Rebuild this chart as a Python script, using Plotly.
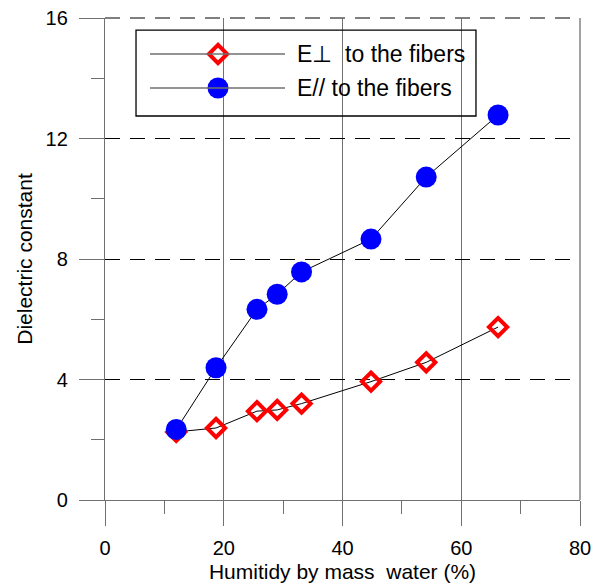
import plotly.graph_objects as go

humidity = [12.0, 18.7, 25.6, 29.0, 33.1, 44.8, 54.1, 66.2]
eps_perp = [2.26, 2.39, 2.95, 2.99, 3.2, 3.93, 4.57, 5.74]
eps_par = [2.34, 4.39, 6.33, 6.83, 7.57, 8.66, 10.72, 12.78]
legend_names = ["E\u22a5  to the fibers", "E// to the fibers"]

FONT = "Arial, Liberation Sans, sans-serif"
GRAY = "#707070"

fig = go.Figure()
fig.add_trace(go.Scatter(
    x=humidity, y=eps_perp, mode="lines+markers", name=legend_names[0],
    line=dict(color="black", width=1),
    marker=dict(symbol="diamond-open", size=14, color="red", line=dict(color="red", width=4)),
    showlegend=False))
fig.add_trace(go.Scatter(
    x=humidity, y=eps_par, mode="lines+markers", name=legend_names[1],
    line=dict(color="black", width=1),
    marker=dict(symbol="circle", size=21, color="blue", line=dict(width=0)),
    showlegend=False))

# frame lines at the top (y=16, dashed grid) and right (x=80, solid grid)
fig.add_shape(type="line", xref="paper", yref="paper", x0=0, x1=1, y0=1, y1=1,
              line=dict(color="black", width=1, dash="15px,10px"), layer="below")
fig.add_shape(type="line", xref="paper", yref="paper", x0=1, x1=1, y0=0, y1=1,
              line=dict(color=GRAY, width=1.3), layer="below")

# manual legend (paper-space helper axes)
lx0, lx1, lxm, ltx = 0.0947, 0.379, 0.2379, 0.40
rows = [0.9253, 0.8548]
fig.add_shape(type="rect", xref="paper", yref="paper", x0=0.0653, x1=0.781, y0=0.7967, y1=0.975,
              line=dict(color="black", width=1.3), fillcolor="rgba(0,0,0,0)", layer="above")
for ry in rows:
    fig.add_shape(type="line", xref="paper", yref="paper", x0=lx0, x1=lx1, y0=ry, y1=ry,
                  line=dict(color=GRAY, width=1.5), layer="above")
fig.add_trace(go.Scatter(x=[lxm], y=[rows[0]], xaxis="x2", yaxis="y2", mode="markers", showlegend=False,
                         marker=dict(symbol="diamond-open", size=14, color="red", line=dict(color="red", width=4))))
fig.add_trace(go.Scatter(x=[lxm], y=[rows[1]], xaxis="x2", yaxis="y2", mode="markers", showlegend=False,
                         marker=dict(symbol="circle", size=21, color="blue", line=dict(width=0))))
for ry, name in zip(rows, legend_names):
    fig.add_annotation(x=ltx, y=ry, xref="paper", yref="paper", text=name, showarrow=False,
                       xanchor="left", yanchor="middle", font=dict(family=FONT, size=23, color="black"))

fig.update_layout(
    width=593, height=587,
    margin=dict(l=105, r=13, t=18, b=87),
    paper_bgcolor="white", plot_bgcolor="white",
    font=dict(family=FONT, size=20, color="black"),
    xaxis=dict(range=[0, 80], dtick=20, tick0=0, showgrid=True, gridcolor=GRAY, gridwidth=1.3,
               zeroline=False, showline=True, linecolor=GRAY, linewidth=1.3, automargin=False,
               ticks="outside", ticklen=25, tickcolor=GRAY, tickwidth=1.3,
               minor=dict(dtick=10, ticks="outside", ticklen=13, tickcolor=GRAY, tickwidth=1.3, showgrid=False),
               ticklabelstandoff=5,
               title=dict(text="Humitidy by mass  water (%)", font=dict(size=21), standoff=6),
               tickfont=dict(size=20)),
    yaxis=dict(range=[0, 16], dtick=4, tick0=0, showgrid=True, gridcolor="black", gridwidth=1,
               griddash="15px,10px", automargin=False,
               zeroline=False, showline=True, linecolor=GRAY, linewidth=1.3,
               ticks="outside", ticklen=25, tickcolor=GRAY, tickwidth=1.3,
               minor=dict(dtick=2, ticks="outside", ticklen=13, tickcolor=GRAY, tickwidth=1.3, showgrid=False),
               ticklabelstandoff=7,
               title=dict(text="Dielectric constant", font=dict(size=21), standoff=7),
               tickfont=dict(size=20)),
    xaxis2=dict(overlaying="x", range=[0, 1], visible=False),
    yaxis2=dict(overlaying="y", range=[0, 1], visible=False),
)

fig.write_html("out.html", post_script="document.body.style.margin='0px';",
               config={"displayModeBar": False})
